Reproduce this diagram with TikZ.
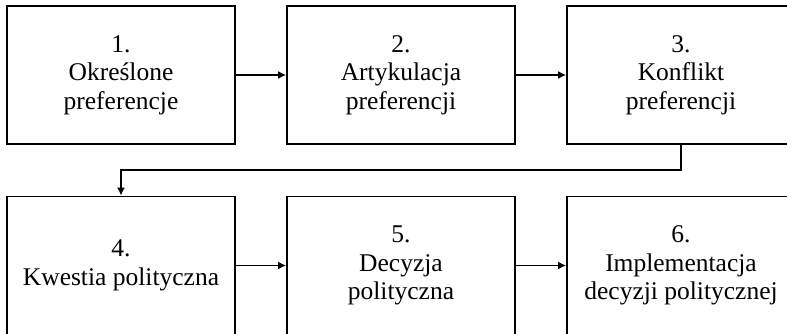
\documentclass[tikz,border=0pt]{standalone}
\usepackage{fontspec}
\setmainfont{Liberation Serif}
\usetikzlibrary{arrows.meta}
\begin{document}
\begin{tikzpicture}[x=1pt,y=-1pt,
  stagebox/.style={draw,line width=1.7pt,minimum width=228pt,minimum height=138pt,align=center,inner sep=0pt,font=\fontsize{25.5}{28.5}\selectfont},
  flow/.style={line width=1.7pt,-{Latex[length=8pt,width=8pt]}}]
\useasboundingbox (0,0) rectangle (787,333);
\clip (0,0) rectangle (787,333);
\node[stagebox] (b1) at (121,75) {1.\\Określone\\preferencje};
\node[stagebox] (b2) at (401,75) {2.\\Artykulacja\\preferencji};
\node[stagebox] (b3) at (681,75) {3.\\Konflikt\\preferencji};
\node[stagebox] (b4) at (121,265.5) {4.\\Kwestia polityczna};
\node[stagebox] (b5) at (401,265.5) {5.\\Decyzja\\polityczna};
\node[stagebox] (b6) at (681,265.5) {6.\\Implementacja\\decyzji politycznej};
\coordinate (m) at (121,170);
\draw[flow] (b1) -- (b2);
\draw[flow] (b2) -- (b3);
\draw[flow] (b3.south) -- (b3.south |- m) -- (m) -- (b4.north);
\draw[flow] (b4) -- (b5);
\draw[flow] (b5) -- (b6);
\end{tikzpicture}
\end{document}
